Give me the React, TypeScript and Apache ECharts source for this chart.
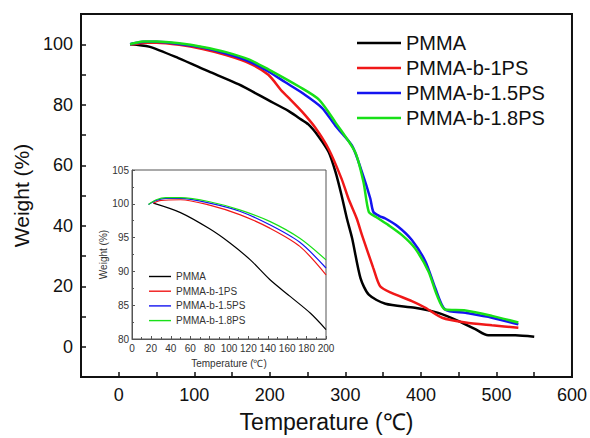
import React, { useEffect, useRef } from "react";
import * as echarts from "echarts";

const seriesNames = ["PMMA", "PMMA-b-1PS", "PMMA-b-1.5PS", "PMMA-b-1.8PS"];
const seriesColors = ["#000000", "#f01818", "#1414f0", "#18e018"];

// Main chart (temperature in °C, weight in %)
const pmmaT = [15, 40, 79, 119, 159, 198, 225, 238, 251, 264, 278, 287, 295, 302, 309, 320, 331, 353, 392, 423, 450, 472, 489, 525, 550];
const pmmaW = [100, 99.2, 95.4, 91.0, 86.7, 81.5, 77.9, 75.7, 73.5, 69.7, 64.3, 57.7, 50, 42.4, 35.8, 22.7, 17.2, 14.2, 12.9, 11.2, 8.5, 5.8, 3.8, 3.8, 3.3];

const ps1T = [15, 22, 35, 50, 80, 111, 142, 173, 198, 216, 225, 242, 260, 278, 295, 304, 315, 322, 337, 346, 361, 388, 406, 428, 459, 494, 529];
const ps1W = [100, 100.1, 100.5, 100.5, 99.8, 98.4, 96.4, 93.7, 89.9, 84.5, 82.3, 77.9, 72.5, 65.3, 55.5, 49, 42.4, 36.9, 26, 20, 17.8, 15.1, 12.9, 9.6, 8.0, 7.1, 6.3];

const ps15T = [15, 20, 35, 50, 80, 111, 142, 173, 198, 220, 243, 269, 287, 309, 322, 333, 337, 345, 353, 370, 388, 406, 419, 432, 459, 494, 529];
const ps15W = [100, 100.3, 100.8, 100.8, 100.1, 98.9, 96.9, 94.3, 91.0, 87.5, 83.9, 79, 73, 66.4, 57.7, 49, 44.6, 43.2, 42.4, 39.7, 35.3, 28.2, 19.4, 12.3, 11.2, 9.6, 7.4];

const ps18T = [15, 20, 32, 50, 80, 111, 142, 173, 198, 238, 265, 287, 313, 324, 331, 340, 357, 375, 392, 410, 421, 432, 459, 494, 529];
const ps18W = [100, 100.3, 100.9, 100.9, 100.3, 99.1, 97.4, 94.9, 91.7, 86.1, 81.7, 74.1, 64.3, 54.4, 44.6, 43, 40.2, 36.9, 32.6, 24.9, 17.2, 12.3, 12.0, 10.2, 8.0];

// Inset (0-200 °C)
const inPmmaT = [22, 50, 80, 101, 122, 142, 163, 184, 200];
const inPmmaW = [100.1, 98.7, 96.3, 94.2, 91.7, 88.8, 86.3, 83.8, 81.4];
const inPs1T = [22, 30, 50, 80, 111, 142, 173, 200];
const inPs1W = [100.1, 100.5, 100.6, 99.8, 98.4, 96.4, 93.7, 89.5];
const inPs15T = [17, 25, 35, 50, 80, 111, 142, 173, 200];
const inPs15W = [99.9, 100.5, 100.8, 100.8, 100.1, 98.9, 96.9, 94.3, 90.5];
const inPs18T = [17, 25, 35, 50, 80, 111, 142, 173, 200];
const inPs18W = [99.9, 100.6, 100.9, 100.9, 100.3, 99.1, 97.4, 94.9, 91.7];

const mainX = [pmmaT, ps1T, ps15T, ps18T];
const mainY = [pmmaW, ps1W, ps15W, ps18W];
const insetX = [inPmmaT, inPs1T, inPs15T, inPs18T];
const insetY = [inPmmaW, inPs1W, inPs15W, inPs18W];

const zip = (xs: number[], ys: number[]) => xs.map((x, i) => [x, ys[i]]);

const FONT = "'Liberation Sans', Arial, sans-serif";

export default function App() {
  const ref = useRef<HTMLDivElement>(null);
  useEffect(() => {
    if (!ref.current) return;
    const chart = echarts.init(ref.current, undefined, { renderer: "svg" });
    const series: any[] = [];
    seriesNames.forEach((name, i) => {
      series.push({
        name,
        type: "line",
        xAxisIndex: 0,
        yAxisIndex: 0,
        data: zip(mainX[i], mainY[i]),
        symbol: "none",
        smooth: 0.25,
        lineStyle: { color: seriesColors[i], width: 2.5 },
        itemStyle: { color: seriesColors[i] },
        z: 3 + i,
      });
    });
    seriesNames.forEach((name, i) => {
      series.push({
        name,
        type: "line",
        xAxisIndex: 1,
        yAxisIndex: 1,
        data: zip(insetX[i], insetY[i]),
        symbol: "none",
        smooth: 0.3,
        lineStyle: { color: seriesColors[i], width: 1.2 },
        itemStyle: { color: seriesColors[i] },
      });
    });
    chart.setOption({
      animation: false,
      backgroundColor: "#ffffff",
      textStyle: { fontFamily: FONT },
      grid: [
        { left: 81, top: 14, width: 492, height: 366, show: true, borderColor: "#111", borderWidth: 2, backgroundColor: "transparent" },
        { left: 132, top: 170, width: 194, height: 169, show: true, borderColor: "#555", borderWidth: 1, backgroundColor: "#ffffff" },
      ],
      legend: [
        {
          data: seriesNames,
          orient: "vertical",
          left: 352,
          top: 28,
          icon: "rect",
          itemWidth: 44,
          itemHeight: 2.5,
          itemGap: 5,
          textStyle: { fontSize: 20, lineHeight: 20, color: "#111", fontFamily: FONT },
          selectedMode: false,
        },
        {
          data: seriesNames,
          orient: "vertical",
          left: 144,
          top: 266,
          icon: "rect",
          itemWidth: 22,
          itemHeight: 1.4,
          itemGap: 3.7,
          textStyle: { fontSize: 10, lineHeight: 11, color: "#333", fontFamily: FONT },
          selectedMode: false,
        },
      ],
      xAxis: [
        {
          type: "value",
          gridIndex: 0,
          min: -50,
          max: 600,
          interval: 50,
          name: "Temperature (℃)",
          nameLocation: "middle",
          nameGap: 33,
          nameTextStyle: { fontSize: 23, color: "#111", fontFamily: FONT },
          axisLine: { show: true, onZero: false, lineStyle: { color: "#111", width: 2 } },
          axisTick: { show: true, inside: true, length: 5, lineStyle: { color: "#111", width: 1.5 } },
          axisLabel: {
            fontSize: 18,
            color: "#111",
            margin: 9,
            formatter: (v: number) => (v >= 0 && v % 100 === 0 ? String(v) : ""),
          },
          splitLine: { show: false },
        },
        {
          type: "value",
          gridIndex: 1,
          min: 0,
          max: 200,
          interval: 20,
          name: "Temperature (℃)",
          nameLocation: "middle",
          nameGap: 19,
          nameTextStyle: { fontSize: 10, color: "#333", fontFamily: FONT },
          axisLine: { show: true, onZero: false, lineStyle: { color: "#555", width: 1 } },
          axisTick: { show: true, inside: true, length: 3, lineStyle: { color: "#555" } },
          minorTick: { show: true, splitNumber: 2, length: 2, lineStyle: { color: "#555" } },
          axisLabel: { fontSize: 10, color: "#333", margin: 4 },
          splitLine: { show: false },
        },
      ],
      yAxis: [
        {
          type: "value",
          gridIndex: 0,
          min: -10,
          max: 110,
          interval: 10,
          name: "Weight (%)",
          nameLocation: "middle",
          nameGap: 48,
          nameTextStyle: { fontSize: 21, color: "#111", fontFamily: FONT },
          axisLine: { show: true, onZero: false, lineStyle: { color: "#111", width: 2 } },
          axisTick: { show: true, inside: true, length: 5, lineStyle: { color: "#111", width: 1.5 } },
          axisLabel: {
            fontSize: 18,
            color: "#111",
            margin: 8,
            formatter: (v: number) => (v >= 0 && v <= 100 && v % 20 === 0 ? String(v) : ""),
          },
          splitLine: { show: false },
        },
        {
          type: "value",
          gridIndex: 1,
          min: 80,
          max: 105,
          interval: 5,
          name: "Weight (%)",
          nameLocation: "middle",
          nameGap: 22,
          nameTextStyle: { fontSize: 10, color: "#333", fontFamily: FONT },
          axisLine: { show: true, onZero: false, lineStyle: { color: "#555", width: 1 } },
          axisTick: { show: true, inside: true, length: 3, lineStyle: { color: "#555" } },
          minorTick: { show: true, splitNumber: 2, length: 2, lineStyle: { color: "#555" } },
          axisLabel: { fontSize: 10, color: "#333", margin: 3 },
          splitLine: { show: false },
        },
      ],
      series,
    });
    return () => chart.dispose();
  }, []);
  return (
    <div
      ref={ref}
      style={{ position: "fixed", left: 0, top: 0, width: 590, height: 438, background: "#fff" }}
    />
  );
}
